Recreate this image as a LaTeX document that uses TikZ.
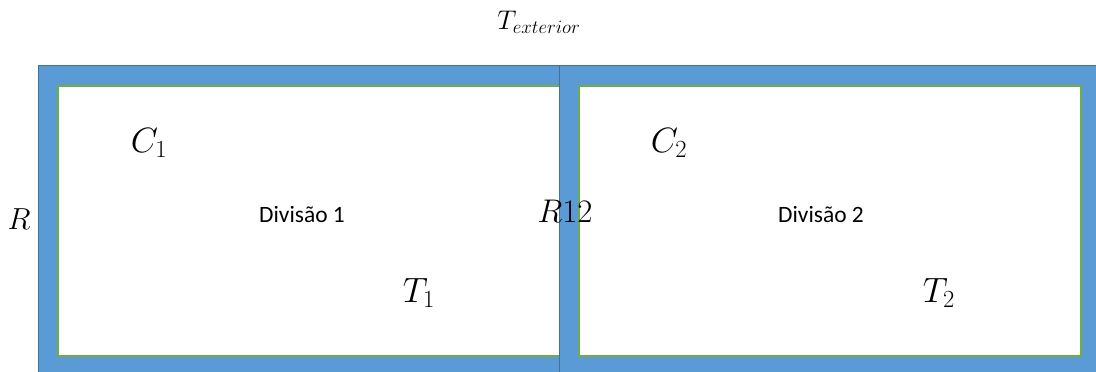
\RequirePackage{fix-cm}
\documentclass[tikz,border=0pt]{standalone}
\usepackage{fontspec}
\setmainfont{Carlito}
\usepackage{tikz}
\definecolor{wallblue}{HTML}{5B9BD5}
\definecolor{walledge}{HTML}{41719C}
\definecolor{roomgreen}{HTML}{70AD47}

\begin{document}
\begin{tikzpicture}[x=0.03cm, y=-0.03cm,
    wall/.style={fill=wallblue, draw=walledge, line width=0.7pt},
    room/.style={draw=roomgreen, line width=0.9pt},
    mlbl/.style={inner sep=0pt, font=\fontsize{30}{34}\selectfont},
    rlbl/.style={inner sep=0pt, font=\fontsize{26}{30}\selectfont},
    dlbl/.style={inner sep=0pt, font=\fontsize{20}{24}\selectfont},
]
\useasboundingbox (0,0) rectangle (1096,372);
\clip (0,0) rectangle (1096,372);

% ===== Walls =====
\draw[wall] (38,65) rectangle (559,380);
\draw[wall] (559,65) rectangle (1110,380);

% ===== Rooms =====
\fill[white] (58,86) rectangle (558.6,356);
\draw[room] (558.6,86) -- (58,86) -- (58,356) -- (558.6,356);
\draw[room, fill=white] (579,86) rectangle (1081,356);

% ===== Labels =====
\node[inner sep=0pt, font=\fontsize{23}{27}\selectfont] (text) at (539,22) {$T_{exterior}$};
\node[rlbl] (rout) at (19,219) {$R$};
\node[rlbl, font=\fontsize{28}{32}\selectfont] (r12) at (565,211) {$R12$};

\node[mlbl] (c1) at (149,143) {$C_1$};
\node[mlbl] (c2) at (669,143) {$C_2$};
\node[mlbl] (t1) at (419,293) {$T_1$};
\node[mlbl] (t2) at (939,293) {$T_2$};

\node[dlbl] (div1) at (302,215) {Divisão 1};
\node[dlbl] (div2) at (821,215) {Divisão 2};

\end{tikzpicture}
\end{document}
